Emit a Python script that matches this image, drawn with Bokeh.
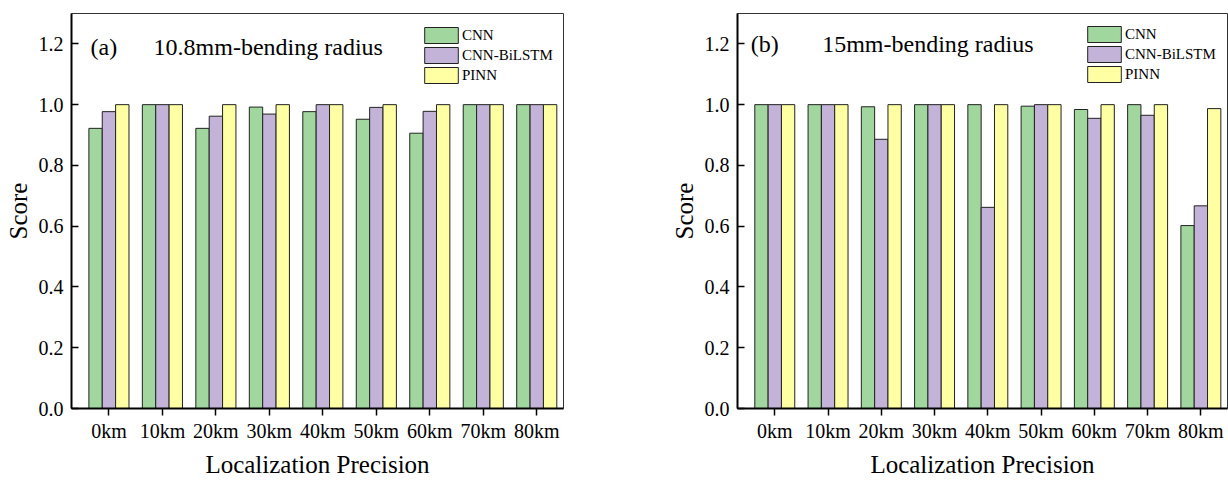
import numpy as np
from bokeh.plotting import figure
from bokeh.layouts import row
from bokeh.models import (Range1d, FixedTicker, PrintfTickFormatter, Label,
                          Legend, LegendItem, ColumnDataSource)
from bokeh.embed import file_html
from bokeh.resources import INLINE

categories = ["0km", "10km", "20km", "30km", "40km", "50km", "60km", "70km", "80km"]
series_names = ["CNN", "CNN-BiLSTM", "PINN"]

a_cnn = [0.922, 1.0, 0.922, 0.992, 0.977, 0.952, 0.906, 1.0, 1.0]
a_bilstm = [0.977, 1.0, 0.962, 0.969, 1.0, 0.991, 0.978, 1.0, 1.0]
a_pinn = [1.0, 1.0, 1.0, 1.0, 1.0, 1.0, 1.0, 1.0, 1.0]

b_cnn = [1.0, 1.0, 0.993, 1.0, 1.0, 0.995, 0.984, 1.0, 0.602]
b_bilstm = [1.0, 1.0, 0.886, 1.0, 0.662, 1.0, 0.955, 0.965, 0.667]
b_pinn = [1.0, 1.0, 1.0, 1.0, 1.0, 1.0, 1.0, 1.0, 0.987]

y_ticks = [0.0, 0.2, 0.4, 0.6, 0.8, 1.0, 1.2]

colors = ["#A1D69F", "#C3B3D8", "#FFFFA3"]
FONT = "'Liberation Serif', 'Times New Roman', serif"


def make_panel(series, tag, title, tag_y, width, height, bl, br, bt, bb, legend_loc):
    p = figure(width=width, height=height, output_backend="svg", toolbar_location=None,
               title=None,
               x_range=Range1d(0.3, 9.5), y_range=Range1d(0, 1.3),
               min_border_left=bl, min_border_right=br, min_border_top=bt,
               min_border_bottom=bb)
    p.xgrid.visible = False
    p.ygrid.visible = False
    p.outline_line_color = "#333333"
    p.outline_line_width = 1
    p.background_fill_color = "white"
    p.border_fill_color = "white"

    centers = np.arange(1, len(categories) + 1)
    bw = 0.25
    items = []
    for k, (vals, name, col) in enumerate(zip(series, series_names, colors)):
        src = ColumnDataSource(dict(x=centers + (k - 1) * bw, top=vals))
        r = p.vbar(x="x", top="top", width=bw, bottom=0, source=src,
                   fill_color=col, line_color="#222222", line_width=1)
        items.append(LegendItem(label=name, renderers=[r]))

    for ax in (p.xaxis[0], p.yaxis[0]):
        ax.axis_line_width = 2
        ax.axis_line_color = "black"
        ax.major_tick_line_width = 1.5
        ax.minor_tick_out = 0
        ax.minor_tick_in = 0
        ax.major_label_text_font = FONT
        ax.major_label_text_font_size = "20px"
        ax.major_label_text_color = "black"
        ax.axis_label_text_font = FONT
        ax.axis_label_text_font_size = "25px"
        ax.axis_label_text_font_style = "normal"
        ax.axis_label_text_color = "black"

    p.xaxis.ticker = FixedTicker(ticks=list(centers))
    p.xaxis.major_label_overrides = {int(c): lab for c, lab in zip(centers, categories)}
    p.xaxis.axis_label = "Localization Precision"
    p.xaxis.major_tick_out = 7
    p.xaxis.major_tick_in = 0
    p.xaxis.major_label_standoff = 4
    p.xaxis.axis_label_standoff = 6

    p.yaxis.ticker = FixedTicker(ticks=y_ticks)
    p.yaxis.formatter = PrintfTickFormatter(format="%.1f")
    p.yaxis.axis_label = "Score"
    p.yaxis.major_tick_out = 0
    p.yaxis.major_tick_in = 7
    p.yaxis.major_label_standoff = 8
    p.yaxis.axis_label_standoff = 4

    p.add_layout(Label(x=tag[1], y=tag_y, text=tag[0], text_font=FONT,
                       text_font_size="24px", text_baseline="middle", text_color="black"))
    p.add_layout(Label(x=title[1], y=tag_y, text=title[0], text_font=FONT,
                       text_font_size="24px", text_baseline="middle", text_color="black"))

    leg = Legend(items=items, location=legend_loc, padding=0, margin=0, spacing=-2,
                 glyph_width=42, glyph_height=20, label_height=20, label_standoff=0,
                 label_text_font=FONT, label_text_font_size="15px",
                 label_text_color="black", border_line_color=None,
                 background_fill_alpha=0)
    p.add_layout(leg)
    return p


pa = make_panel([a_cnn, a_bilstm, a_pinn], ("(a)", 0.656), ("10.8mm-bending radius", 1.835), 1.19,
                640, 480, 71, 77, 13, 71, (349, 323))
pb = make_panel([b_cnn, b_bilstm, b_pinn], ("(b)", 0.55), ("15mm-bending radius", 1.89), 1.2,
                588, 480, 97, 1, 13, 71, (346, 324))

layout = row(pa, pb)
open("out.html", "w").write(file_html(layout, INLINE))
